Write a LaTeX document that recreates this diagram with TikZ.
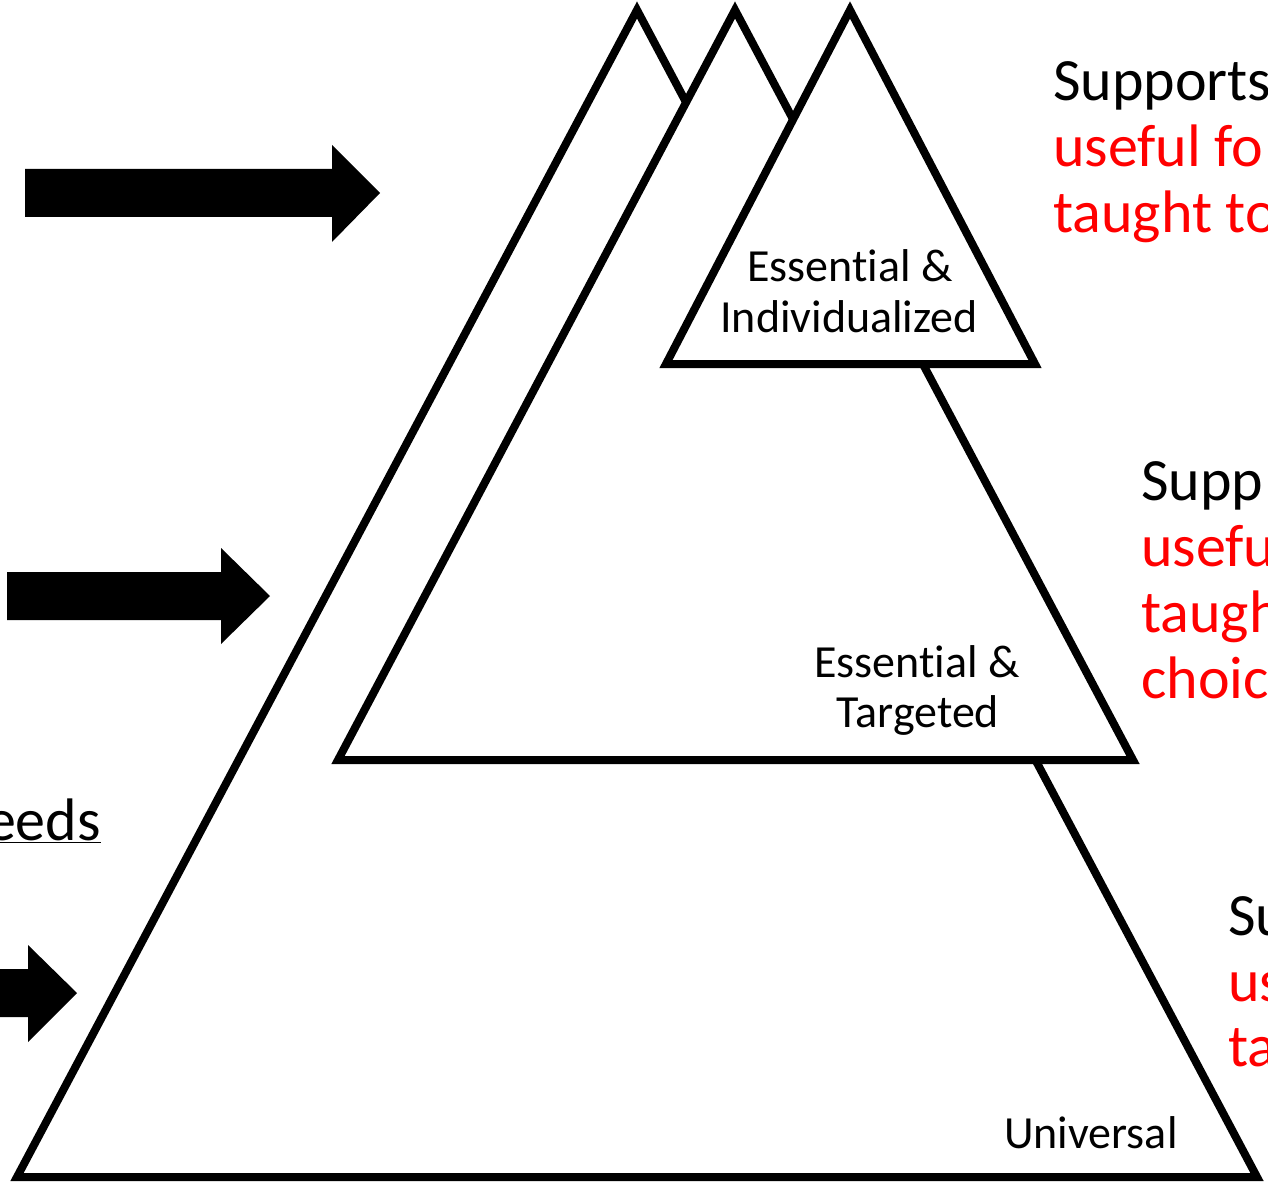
\documentclass[tikz,border=0pt]{standalone}
\usepackage{fontspec}
\setmainfont[Ligatures={NoCommon}]{Carlito}
\newcommand{\essential}{Essen\kern0pt tial}
\begin{document}
\begin{tikzpicture}[x=1pt,y=-1pt,
  tri/.style={draw=black, fill=white, line width=8pt, line join=miter},
  blockarrow/.style={fill=black, draw=none},
  bigtxt/.style={font=\fontsize{60}{65}\selectfont, inner sep=0pt, anchor=base west, text=black},
  redtxt/.style={bigtxt, text=red},
  lbl/.style={font=\fontsize{46}{51}\selectfont, inner sep=0pt, anchor=base, text=black}]
\useasboundingbox (0,0) rectangle (1268,1182);
\clip (0,0) rectangle (1268,1182);
\fill[white] (0,0) rectangle (1268,1182);

% triangles
\draw[tri] (637,10) -- (17,1177) -- (1257,1177) -- cycle;
\draw[tri] (735,10) -- (338,760) -- (1133,760) -- cycle;
\draw[tri] (850,10) -- (666,364) -- (1035,364) -- cycle;

% block arrows
\fill[blockarrow] (25,169) -- (332,169) -- (332,145) -- (380,193) -- (332,242) -- (332,217) -- (25,217) -- cycle;
\fill[blockarrow] (7,572) -- (221,572) -- (221,548) -- (270,596) -- (221,644) -- (221,620) -- (7,620) -- cycle;
\fill[blockarrow] (-5,969) -- (28,969) -- (28,945) -- (77,993) -- (28,1042) -- (28,1017) -- (-5,1017) -- cycle;

% triangle labels
\node[lbl] (ei1) at (850,281) {\essential{} \&};
\node[lbl] (ei2) at (849,332) {Individualized};
\node[lbl] (et1) at (917,677) {\essential{} \&};
\node[lbl] (et2) at (918,727) {Targeted};
\node[lbl, anchor=base west] (univ) at (1004,1148) {Universal};

% right texts (cut off at the right edge, as in the reference)
\node[bigtxt] (a1) at (1053,101) {Supports};
\node[redtxt] (a2) at (1053,167) {useful fo};
\node[redtxt] (a3) at (1053,233) {taught to};

\node[bigtxt] (b1) at (1141,500) {Supp};
\node[redtxt] (b2) at (1141,566) {usefu};
\node[redtxt] (b3) at (1141,632) {taugh};
\node[redtxt] (b4) at (1141,698) {choic};

\node[bigtxt] (c1) at (1228,935) {Su};
\node[redtxt] (c2) at (1228,1001) {us};
\node[redtxt] (c3) at (1228,1066) {ta};

% left text
\node[bigtxt, anchor=base east] (needs) at (101,840) {\underline{eeds}};
\end{tikzpicture}
\end{document}
